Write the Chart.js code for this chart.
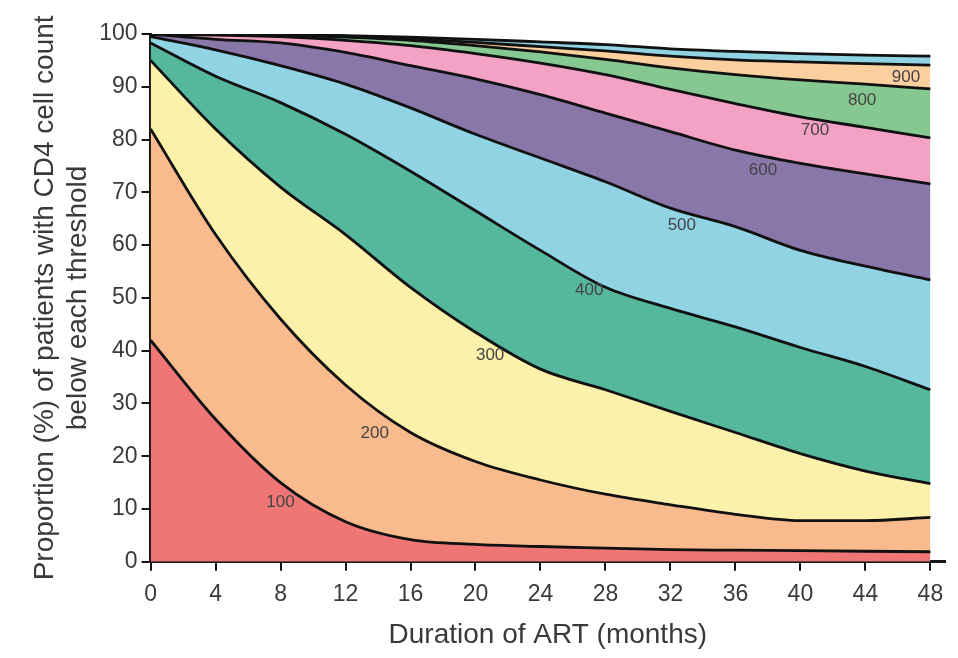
<!DOCTYPE html>
<html>
<head>
<meta charset="utf-8">
<script src="https://cdn.jsdelivr.net/npm/chart.js@4.4.1/dist/chart.umd.min.js"></script>
<style>
  html, body { margin: 0; padding: 0; background: #fff; }
  #wrap { width: 958px; height: 658px; }
</style>
</head>
<body>
<div id="wrap"><canvas id="chart"></canvas></div>
<script>
// Months on ART (x values)
const months = [0, 4, 8, 12, 16, 20, 24, 28, 32, 36, 40, 44, 48];
const xTicks = [0, 4, 8, 12, 16, 20, 24, 28, 32, 36, 40, 44, 48];

// % of patients with CD4 count below each threshold
const below100  = [42, 27, 15, 7.6, 4.2, 3.3, 2.9, 2.6, 2.3, 2.2, 2.1, 2.0, 1.9];
const below200  = [82, 62, 46, 33.5, 24.5, 19, 15.5, 12.8, 10.8, 9.0, 7.8, 7.8, 8.4];
const below300  = [95, 82, 71, 62, 52, 43.5, 36.5, 32.6, 28.5, 24.5, 20.5, 17.2, 14.8];
const below400  = [98.3, 92, 87, 81, 74, 66.5, 59, 52, 48, 44.5, 40.6, 37, 32.6];
const below500  = [99.5, 97, 94, 90.5, 86, 81, 76.5, 72, 67, 63.5, 59, 56, 53.4];
const below600  = [100, 99, 98.3, 96.5, 94, 91.5, 88.5, 85, 81.5, 78, 75.5, 73.5, 71.6];
const below700  = [100, 99.8, 99.5, 98.8, 97.8, 96.3, 94.5, 92.3, 89.5, 86.8, 84.3, 82.3, 80.3];
const below800  = [100, 100, 99.8, 99.4, 98.8, 97.8, 96.6, 95.2, 93.6, 92.3, 91.3, 90.5, 89.6];
const below900  = [100, 100, 99.9, 99.6, 99.1, 98.4, 97.6, 96.8, 95.8, 95.1, 94.7, 94.4, 94.1];
const below1000 = [100, 100, 99.9, 99.7, 99.4, 99.0, 98.5, 98.0, 97.2, 96.7, 96.3, 96.0, 95.8];

const thresholds = ['100', '200', '300', '400', '500', '600', '700', '800', '900', '1000'];
const series = [below100, below200, below300, below400, below500,
                below600, below700, below800, below900, below1000];

// where the threshold numbers sit inside the bands (month, %)
const labelText   = ['100', '200', '300', '400', '500', '600', '700', '800', '900'];
const labelMonth  = [8.0, 13.8, 20.9, 27.0, 32.7, 37.7, 40.9, 43.8, 46.5];
const labelValue  = [11.2, 24.4, 39.2, 51.5, 63.8, 74.2, 81.8, 87.5, 91.7];

const bandColors = ['#f07676', '#f9bb8e', '#fcf1aa', '#55b79c', '#90d3e3',
                    '#8a77aa', '#f3a1c5', '#86c891', '#fbcf9e', '#90d3e3'];

const textColor = '#3a3a3a';
const fontFamily = '"Liberation Sans", Arial, Helvetica, sans-serif';

// band labels drawn through the scales
const bandLabels = {
  id: 'bandLabels',
  afterDatasetsDraw(chart) {
    const { ctx, scales: { x, y } } = chart;
    ctx.save();
    ctx.font = '17px ' + fontFamily;
    ctx.fillStyle = '#444';
    ctx.textAlign = 'center';
    ctx.textBaseline = 'middle';
    labelText.forEach((t, i) => {
      ctx.fillText(t, x.getPixelForValue(labelMonth[i]), y.getPixelForValue(labelValue[i]));
    });
    ctx.restore();
  }
};

const datasets = series.map((vals, i) => ({
  label: thresholds[i],
  data: months.map((m, j) => ({ x: m, y: vals[j] })),
  borderColor: '#111',
  borderWidth: 2.8,
  backgroundColor: bandColors[i],
  fill: i === 0 ? 'origin' : '-1',
  pointRadius: 0,
  cubicInterpolationMode: 'monotone'
}));

const ctx = document.getElementById('chart').getContext('2d');
new Chart(ctx, {
  type: 'line',
  data: { datasets: datasets },
  options: {
    responsive: true,
    maintainAspectRatio: false,
    animation: false,
    layout: { padding: { top: 34, right: 13, left: 28, bottom: 6 } },
    plugins: {
      legend: { display: false },
      tooltip: { enabled: false },
      filler: { drawTime: 'beforeDatasetsDraw' }
    },
    scales: {
      x: {
        type: 'linear',
        min: 0,
        max: 48.9,
        afterBuildTicks: (scale) => {
          scale.ticks = xTicks.map(v => ({ value: v }));
        },
        ticks: { color: textColor, font: { family: fontFamily, size: 23 }, padding: 10, maxRotation: 0, autoSkip: false },
        grid: { drawOnChartArea: false, drawTicks: true, tickLength: 9, color: '#151515', lineWidth: 2 },
        border: { color: '#151515', width: 3 },
        title: {
          display: true,
          text: 'Duration of ART (months)',
          color: textColor,
          font: { family: fontFamily, size: 28 },
          padding: { top: 0, bottom: 0 }
        }
      },
      y: {
        min: 0,
        max: 100,
        ticks: { stepSize: 10, color: textColor, font: { family: fontFamily, size: 23 }, padding: 4 },
        grid: { drawOnChartArea: false, drawTicks: true, tickLength: 9, color: '#151515', lineWidth: 2 },
        border: { color: '#151515', width: 3 },
        title: {
          display: true,
          text: ['Proportion (%) of patients with CD4 cell count', 'below each threshold'],
          color: textColor,
          font: { family: fontFamily, size: 28, lineHeight: 1.2 },
          padding: { top: 0, bottom: 0 }
        }
      }
    }
  },
  plugins: [bandLabels]
});
</script>
</body>
</html>
